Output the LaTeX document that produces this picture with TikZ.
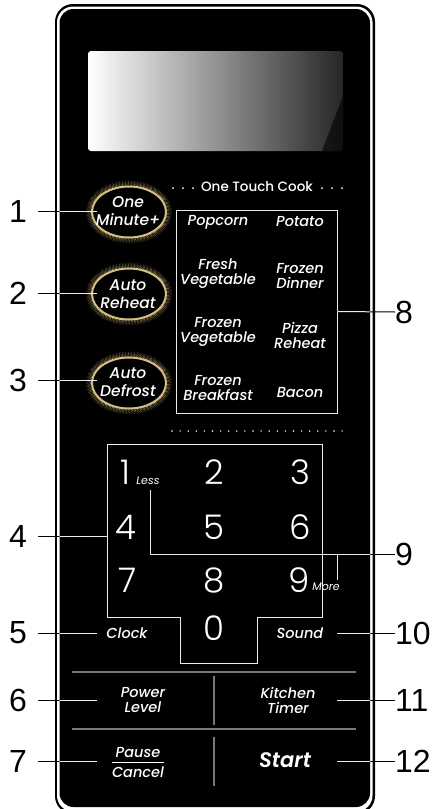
\documentclass[tikz,border=0pt]{standalone}
\usepackage{fontspec}
\setmainfont{Liberation Sans}
\newfontfamily\pop{Poppins}[UprightFont=* Medium, ItalicFont=* Medium Italic, BoldFont=* SemiBold, BoldItalicFont=* SemiBold Italic]
\newfontfamily\popr{Poppins}
\newfontfamily\popl{Poppins Light}
\usetikzlibrary{calc}
\definecolor{gold}{RGB}{212,190,128}
\definecolor{panelgray}{RGB}{120,120,120}
\newcommand\goldbtn[2]{%
  \foreach \r/\o/\p in {0.8/1/0,1.6/0.95/0.5,2.4/0.85/0.2,3.2/0.7/0.7,4.0/0.55/0.3,4.8/0.4/0.9,5.6/0.25/0.1}{%
    \draw[gold,opacity=\o,line width=0.6pt,dash pattern=on 0.5pt off 1pt,dash phase=\p pt] (#1,#2) ellipse [x radius={37+\r}, y radius={25.5+\r}];}%
  \draw[gold,line width=2pt,fill=black] (#1,#2) ellipse [x radius=37, y radius=25.5];
}
\newcommand\allconns[1]{%
  \draw[conn,#1] ([xshift=11pt]l1.east) -- (t1);
  \draw[conn,#1] ([xshift=11pt]l2.east) -- (t2);
  \draw[conn,#1] ([xshift=11pt]l3.east) -- (t3);
  \draw[conn,#1] ([xshift=11pt]l4.east) -- (t4);
  \draw[conn,#1] ([xshift=11pt]l5.east) -- (t5);
  \draw[conn,#1] ([xshift=11pt]l6.east) -- (t6);
  \draw[conn,#1] ([xshift=11pt]l7.east) -- (t7);
  \draw[conn,#1] (l8.west) -- (otc.east);
  \draw[conn,#1] (l9.west) -- (j9) -- (t9less);
  \draw[conn,#1] (j9m) -- (t9more);
  \draw[conn,#1] (l10.west) -- (t10);
  \draw[conn,#1] (l11.west) -- (t11);
  \draw[conn,#1] (l12.west) -- (t12);
}
\begin{document}
\begin{tikzpicture}[x=1pt,y=-1pt,
  num/.style={font=\fontsize{32}{32}\selectfont,text=black,inner sep=0pt},
  conn/.style={line width=1pt},
  btxt/.style={text=white,font=\pop\itshape\fontsize{15.5}{17.5}\selectfont,align=center,inner sep=0pt},
  food/.style={text=white,font=\pop\itshape\fontsize{14.5}{15}\selectfont,align=center,inner sep=0pt},
  keyd/.style={text=white,font=\popl\fontsize{34}{34}\selectfont,inner sep=0pt},
  small/.style={text=white,font=\popr\itshape\fontsize{11}{11}\selectfont,inner sep=0pt},
  wline/.style={draw=white!92!black,line width=1pt},
  sepline/.style={draw=panelgray,line width=1.3pt}]
\useasboundingbox (0,0) rectangle (440,809);
% panel
\fill[black,rounded corners=18pt] (55,4) rectangle (375,814);
\fill[white,rounded corners=16pt] (57,6.5) rectangle (372.5,811.5);
\fill[black,rounded corners=14pt] (59.5,9) rectangle (370,807);
% display
\shade[rounded corners=3pt,left color=white,middle color=black!42,right color=black!85] (88,51) rectangle (343,151);
\fill[black,opacity=0.6] (343,96) -- (343,151) -- (322,151) -- cycle;
% one touch cook
\node[text=white,font=\pop\fontsize{13.5}{14}\selectfont,inner sep=0pt] (otct) at (257,187) {One Touch Cook};
\draw[white,line width=2pt,line cap=round,dash pattern=on 0pt off 10pt] (173,188) -- (194,188);
\draw[white,line width=2pt,line cap=round,dash pattern=on 0pt off 10pt] (322,188) -- (343,188);
\node[wline,minimum width=161pt,minimum height=203pt,inner sep=0pt] (otc) at (256.5,311.5) {};
\node[food] (f1) at (218,222) {Popcorn};
\node[food] (f2) at (300,222) {Potato};
\node[food] (f3) at (218,274) {Fresh\\Vegetable};
\node[food] (f4) at (300,276) {Frozen\\Dinner};
\node[food] (f5) at (218,332) {Frozen\\Vegetable};
\node[food] (f6) at (300,335) {Pizza\\Reheat};
\node[food] (f7) at (218,388) {Frozen\\Breakfast};
\node[food] (f8) at (300,393) {Bacon};
\draw[white,line width=1.6pt,line cap=round,dash pattern=on 0pt off 8.1pt] (172,431) -- (343,431);
% buttons
\goldbtn{129}{212}
\goldbtn{129}{294}
\goldbtn{129}{383}
\node[btxt] (b1) at (128,211) {One\\Minute+};
\node[btxt] (b2) at (128,294) {Auto\\Reheat};
\node[btxt] (b3) at (128,382) {Auto\\Defrost};
% keypad
\draw[wline] (107,444) -- (322,444) -- (322,617) -- (257,617) -- (257,663) -- (180,663) -- (180,617) -- (107,617) -- cycle;
\node[keyd] (k1) at (125,472) {1};
\node[keyd] (k2) at (214,472) {2};
\node[keyd] (k3) at (300,472) {3};
\node[keyd] (k4) at (126,527) {4};
\node[keyd] (k5) at (214,527) {5};
\node[keyd] (k6) at (300,527) {6};
\node[keyd] (k7) at (128,580) {7};
\node[keyd] (k8) at (214,580) {8};
\node[keyd] (k9) at (299,580) {9};
\node[keyd] (k0) at (214,628) {0};
\node[small] (less) at (148,481) {Less};
\node[small] (more) at (326,587) {More};
\node[food] (clock) at (127,633) {Clock};
\node[food] (sound) at (300,633) {Sound};
% separators
\draw[sepline] (72,672) -- (356,672);
\draw[sepline] (72,729) -- (356,729);
\draw[sepline] (214,676) -- (214,725);
\draw[sepline] (214,737) -- (214,786);
\node[food] (power) at (143,700) {Power\\Level};
\node[food] (kitchen) at (288,700) {Kitchen\\Timer};
\node[food] (pause) at (138,753) {Pause};
\node[food] (cancel) at (138,772) {Cancel};
\draw[white,line width=0.8pt] (112,762) -- (164,762);
\node[text=white,font=\pop\bfseries\itshape\fontsize{21}{22}\selectfont,inner sep=0pt] (start) at (285,760) {Start};
% label numbers
\node[num,anchor=east] (l1) at (27,211) {1};
\node[num,anchor=east] (l2) at (27,293) {2};
\node[num,anchor=east] (l3) at (27,380) {3};
\node[num,anchor=east] (l4) at (27,536) {4};
\node[num,anchor=east] (l5) at (27,633) {5};
\node[num,anchor=east] (l6) at (27,700) {6};
\node[num,anchor=east] (l7) at (27,761) {7};
\node[num,anchor=west] (l8) at (395,312) {8};
\node[num,anchor=west] (l9) at (395,554) {9};
\node[num,anchor=west] (l10) at (395,633) {10};
\node[num,anchor=west] (l11) at (395,700) {11};
\node[num,anchor=west] (l12) at (395,761) {12};
% connector targets
\coordinate (t1) at (97,211);
\coordinate (t2) at (97,293);
\coordinate (t3) at (97,380);
\coordinate (t4) at (107,536);
\coordinate (t5) at (97,633);
\coordinate (t6) at (97,700);
\coordinate (t7) at (97,761);
\coordinate (j9) at (150,554);
\coordinate (t9less) at (150,490);
\coordinate (j9m) at (337,554);
\coordinate (t9more) at (337,580);
\coordinate (t10) at (337,633);
\coordinate (t11) at (337,700);
\coordinate (t12) at (337,761);
\allconns{black}
\begin{scope}
\clip (59.5,9) rectangle (370,807);
\allconns{white!92!black}
\end{scope}
\end{tikzpicture}
\end{document}
